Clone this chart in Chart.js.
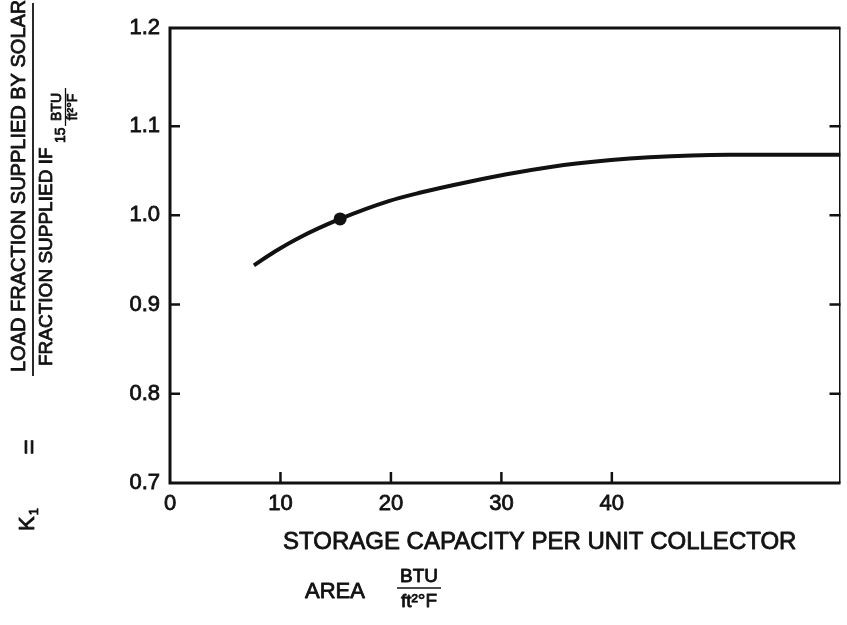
<!DOCTYPE html>
<html>
<head>
<meta charset="utf-8">
<script src="https://cdn.jsdelivr.net/npm/chart.js@4.4.0/dist/chart.umd.min.js"></script>
<style>
  html, body { margin: 0; padding: 0; background: #ffffff; overflow: hidden; }
  #wrap { width: 847px; height: 625px; position: relative; }
  canvas { display: block; }
</style>
</head>
<body>
<div id="wrap"><canvas id="c"></canvas></div>
<script>
// ---- data ----
const storageX = [7.6, 9.5, 11.7, 15.4, 19.8, 22.5, 27.2, 31.4, 36.8, 43.4, 50.6, 60.7];
const kValues  = [0.944, 0.9595, 0.975, 0.996, 1.016, 1.025, 1.038, 1.048, 1.058, 1.065, 1.068, 1.068];
const markX = [15.4];
const markK = [0.996];
const xTicks = [0, 10, 20, 30, 40];
const yTicks = [0.7, 0.8, 0.9, 1.0, 1.1, 1.21];
const yTickLabels = ['0.7', '0.8', '0.9', '1.0', '1.1', '1.2'];

const INK = '#111111';
const FONT = '"Liberation Sans", Arial, Helvetica, sans-serif';

function heavyText(ctx, txt, x, y) {
  ctx.lineWidth = 0.8;
  ctx.lineJoin = 'round';
  ctx.strokeText(txt, x, y);
  ctx.fillText(txt, x, y);
}

const framePlugin = {
  id: 'frame',
  afterDatasetsDraw(chart) {
    const {ctx, chartArea: a, scales} = chart;
    ctx.save();
    ctx.strokeStyle = INK;
    ctx.lineCap = 'butt';
    ctx.lineWidth = 3;
    ctx.beginPath();
    ctx.moveTo(a.right, a.top);
    ctx.lineTo(a.left, a.top);
    ctx.lineTo(a.left, a.bottom);
    ctx.lineTo(a.right, a.bottom);
    ctx.stroke();
    ctx.lineWidth = 1.5;
    ctx.beginPath();
    ctx.moveTo(a.right - 0.75, a.top);
    ctx.lineTo(a.right - 0.75, a.bottom);
    ctx.stroke();
    ctx.lineWidth = 2.5;
    yTicks.slice(1, 5).forEach(v => {
      const y = scales.y.getPixelForValue(v);
      ctx.beginPath();
      ctx.moveTo(a.left, y); ctx.lineTo(a.left + 10, y);
      ctx.moveTo(a.right - 11, y); ctx.lineTo(a.right, y);
      ctx.stroke();
    });
    xTicks.slice(1).forEach(v => {
      const x = scales.x.getPixelForValue(v);
      ctx.beginPath();
      ctx.moveTo(x, a.bottom); ctx.lineTo(x, a.bottom - 11);
      ctx.stroke();
    });
    ctx.restore();
  },
  afterDraw(chart) {
    const ctx = chart.ctx;
    ctx.save();
    ctx.fillStyle = INK;
    ctx.strokeStyle = INK;

    const rot = (x, y, fn) => {
      ctx.save(); ctx.translate(x, y); ctx.rotate(-Math.PI / 2); fn(); ctx.restore();
    };
    rot(19, 372, () => {
      ctx.font = '20px ' + FONT; ctx.textAlign = 'left'; ctx.textBaseline = 'middle';
      heavyText(ctx, 'LOAD FRACTION SUPPLIED BY SOLAR', 0, 0);
    });
    ctx.lineWidth = 1.8;
    ctx.beginPath(); ctx.moveTo(33, 376); ctx.lineTo(33, 3); ctx.stroke();
    rot(47, 366, () => {
      ctx.font = '19px ' + FONT; ctx.textAlign = 'left'; ctx.textBaseline = 'middle';
      heavyText(ctx, 'FRACTION SUPPLIED IF', 0, 0);
    });
    rot(61, 143, () => {
      ctx.font = '14px ' + FONT; ctx.textAlign = 'left'; ctx.textBaseline = 'middle';
      heavyText(ctx, '15', 0, 0);
    });
    rot(57, 107, () => {
      ctx.font = '14px ' + FONT; ctx.textAlign = 'center'; ctx.textBaseline = 'middle';
      heavyText(ctx, 'BTU', 0, 0);
    });
    ctx.lineWidth = 1.3;
    ctx.beginPath(); ctx.moveTo(65.5, 126); ctx.lineTo(65.5, 88); ctx.stroke();
    rot(73.5, 107, () => {
      ctx.font = '14px ' + FONT; ctx.textAlign = 'center'; ctx.textBaseline = 'middle';
      heavyText(ctx, 'ft\u00B2\u00B0F', 0, 0);
    });
    rot(30, 447, () => {
      ctx.font = '26px ' + FONT; ctx.textAlign = 'center'; ctx.textBaseline = 'middle';
      heavyText(ctx, '=', 0, 0);
    });
    rot(28, 531, () => {
      ctx.font = '22px ' + FONT; ctx.textAlign = 'left'; ctx.textBaseline = 'middle';
      heavyText(ctx, 'K', 0, 0);
      const w = ctx.measureText('K').width;
      ctx.font = '13px ' + FONT;
      heavyText(ctx, '1', w + 1, 6);
    });

    ctx.font = '24px ' + FONT; ctx.textAlign = 'left'; ctx.textBaseline = 'alphabetic';
    heavyText(ctx, 'STORAGE CAPACITY PER UNIT COLLECTOR', 283, 549);
    ctx.font = '22px ' + FONT;
    heavyText(ctx, 'AREA', 305, 598);
    ctx.font = '19px ' + FONT; ctx.textAlign = 'center';
    heavyText(ctx, 'BTU', 419, 582);
    ctx.lineWidth = 1.5;
    ctx.beginPath(); ctx.moveTo(397, 588); ctx.lineTo(441, 588); ctx.stroke();
    heavyText(ctx, 'ft\u00B2\u00B0F', 419, 607);
    ctx.restore();
  }
};

new Chart(document.getElementById('c'), {
  type: 'scatter',
  data: {
    datasets: [
      {
        data: storageX.map((x, i) => ({x: x, y: kValues[i]})),
        showLine: true,
        borderColor: INK,
        borderWidth: 4,
        pointRadius: 0,
        cubicInterpolationMode: 'monotone',
        fill: false
      },
      {
        data: markX.map((x, i) => ({x: x, y: markK[i]})),
        showLine: false,
        pointRadius: 6.5,
        pointBackgroundColor: INK,
        pointBorderColor: INK,
        pointBorderWidth: 0
      }
    ]
  },
  options: {
    responsive: true,
    maintainAspectRatio: false,
    animation: false,
    devicePixelRatio: 1,
    layout: { padding: { top: 28, right: -6, left: 0, bottom: 0 } },
    plugins: { legend: { display: false }, tooltip: { enabled: false } },
    scales: {
      x: {
        type: 'linear', min: 0, max: 60.7,
        afterBuildTicks(s) { s.ticks = xTicks.map(v => ({value: v})); },
        afterFit(s) { s.height = 142; },
        grid: { display: false, drawTicks: false },
        border: { display: false },
        ticks: { color: INK, font: { family: FONT, size: 22 }, padding: 8, maxRotation: 0, autoSkip: false,
                 textStrokeColor: INK, textStrokeWidth: 0.8 }
      },
      y: {
        type: 'linear', min: 0.7, max: 1.21,
        afterBuildTicks(s) { s.ticks = yTicks.map(v => ({value: v})); },
        afterFit(s) { s.width = 170; },
        grid: { display: false, drawTicks: false },
        border: { display: false },
        ticks: {
          color: INK, font: { family: FONT, size: 22 }, padding: 10, autoSkip: false,
          textStrokeColor: INK, textStrokeWidth: 0.8,
          callback: (v, i) => yTickLabels[i]
        }
      }
    }
  },
  plugins: [framePlugin]
});
</script>
</body>
</html>
